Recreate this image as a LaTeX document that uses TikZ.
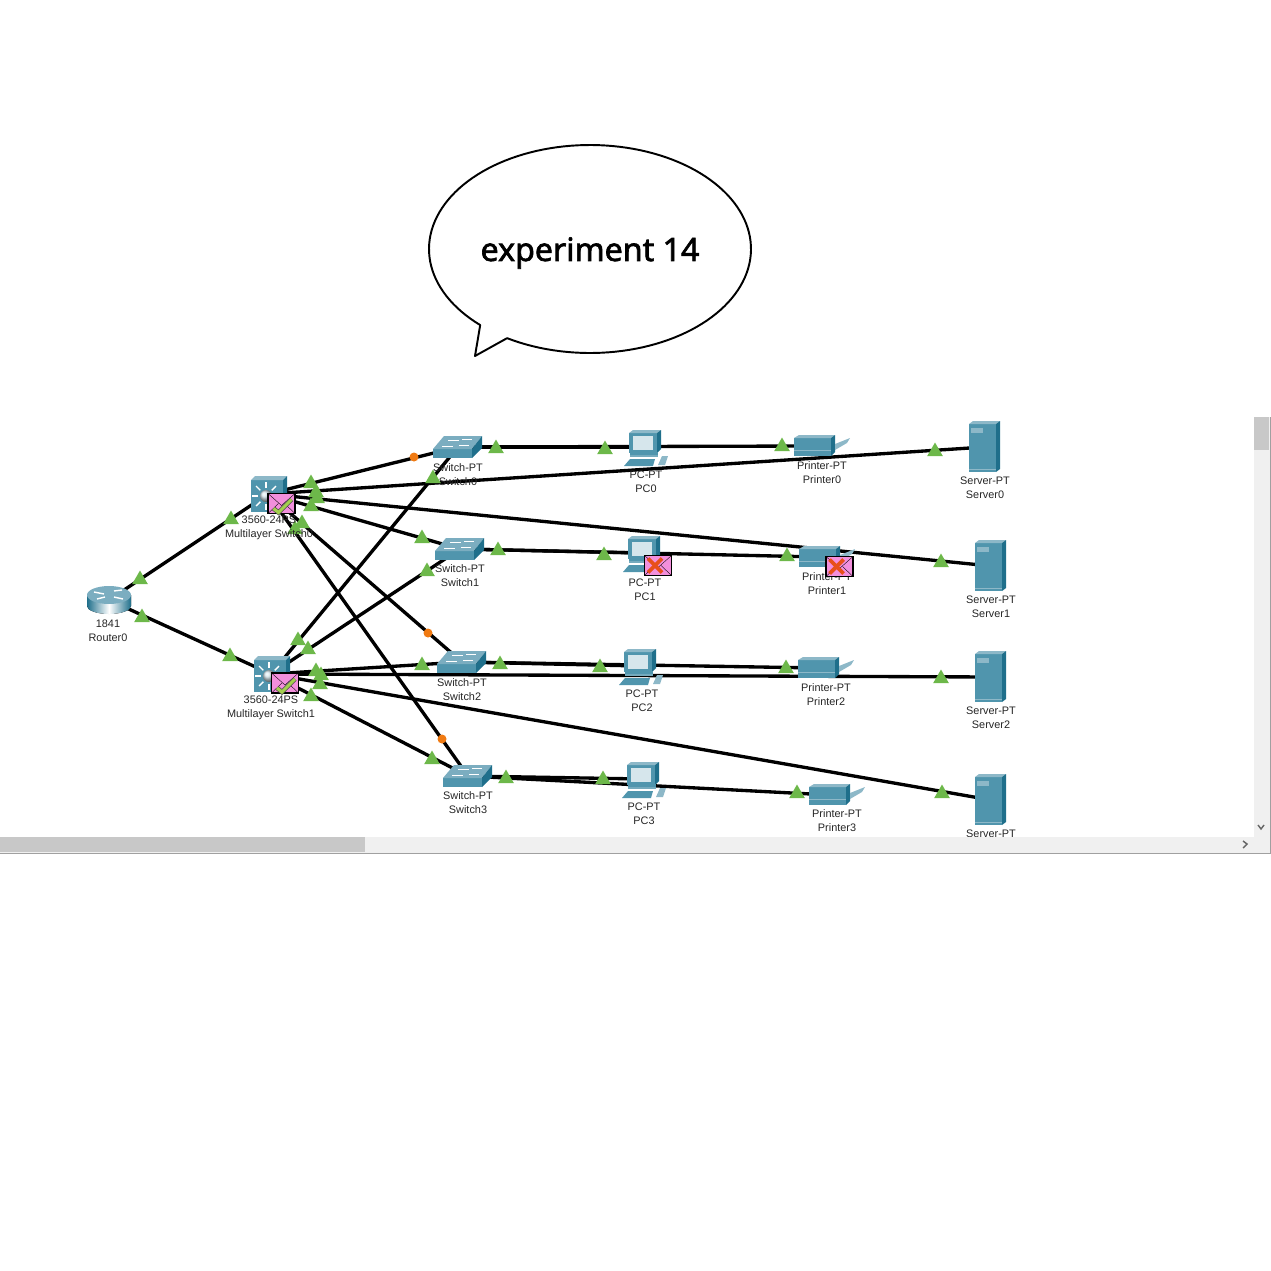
\documentclass[tikz,border=0pt]{standalone}
\usepackage{fontspec}
\setmainfont{Liberation Sans}
\newfontfamily\bubblefont[FakeBold=2]{Noto Sans}
\definecolor{devteal}{HTML}{5095AD}
\definecolor{devdark}{HTML}{1F6F8B}
\definecolor{devlight}{HTML}{8DB8C8}
\definecolor{screenblue}{HTML}{D6E6EC}
\definecolor{lightgreen}{HTML}{6DB84A}
\definecolor{lightorange}{HTML}{F07A12}
\definecolor{envpink}{HTML}{F28FDC}
\definecolor{crossred}{HTML}{E8501A}
\definecolor{checkgreen}{HTML}{A4CF4E}
\definecolor{barbg}{HTML}{F0F0F0}
\definecolor{barthumb}{HTML}{C8C8C8}
\definecolor{barline}{HTML}{A0A0A0}
\tikzset{
  devpt/.style={inner sep=0pt, minimum size=0pt},
  lbl/.style={inner sep=0pt, align=center, text=black!85, font=\fontsize{6.2}{7.94}\selectfont},
  link/.style={line width=1.9pt, black},
  uplight/.style={fill=lightgreen, regular polygon, regular polygon sides=3, inner sep=0pt, minimum size=18*0.02cm, yshift=-1.5*0.02cm},
  orangelight/.style={fill=lightorange, circle, inner sep=0pt, minimum size=9*0.02cm},
  pics/switchicon/.style={code={
    \fill[devteal] (-25,2) rectangle (14,11);
    \fill[devlight!70!devteal] (-25,2) -- (14,2) -- (24,-11) -- (-14,-11) -- cycle;
    \fill[devdark] (14,2) -- (24,-11) -- (24,1) -- (14,11) -- cycle;
    \draw[white, thin] (-10,-7) -- (1,-7);
    \draw[white, thin] (4,-8) -- (14,-8);
    \draw[white, thin] (-16,-1) -- (-5,-1);
    \draw[white, thin] (1,-2) -- (11,-2);
  }},
  pics/pcicon/.style={code={
    \fill[devteal] (-16,-14) rectangle (12,6);
    \fill[devlight] (-16,-14) -- (-12,-17) -- (16,-17) -- (12,-14) -- cycle;
    \fill[devdark] (12,-14) -- (16,-17) -- (16,2) -- (12,6) -- cycle;
    \fill[screenblue] (-12,-11) rectangle (8,3);
    \fill[devteal] (-15,5) rectangle (13,10);
    \fill[devlight!60!devteal] (-15,8) rectangle (13,10);
    \fill[devteal] (-21,19) -- (8,19) -- (10,12) -- (-15,12) -- cycle;
    \fill[devlight] (13,18) -- (17,9) -- (23,9) -- (20,18) -- cycle;
  }},
  pics/printericon/.style={code={
    \fill[devteal] (-21,-8) rectangle (16,10);
    \fill[devlight] (-21,-8) -- (-16,-11) -- (20,-11) -- (16,-8) -- cycle;
    \fill[devdark] (16,-8) -- (20,-11) -- (20,6) -- (16,10) -- cycle;
    \draw[devlight, thin] (-21,4) -- (16,4);
    \fill[devlight] (20,-2) -- (35,-8) -- (32,-3) -- (20,4) -- cycle;
  }},
  pics/servericon/.style={code={
    \fill[devteal] (-16,-23) rectangle (11,25);
    \fill[devlight] (-16,-23) -- (-12,-26) -- (15,-26) -- (11,-23) -- cycle;
    \fill[devdark] (11,-23) -- (15,-26) -- (15,22) -- (11,25) -- cycle;
    \fill[devlight] (-14,-19) rectangle (-2,-14);
    \draw[devlight, thin] (-16,22) -- (11,22);
  }},
  pics/mlsicon/.style={code={
    \fill[devteal] (-17,-14) rectangle (15,18);
    \fill[devlight] (-17,-14) -- (-13,-18) -- (19,-18) -- (15,-14) -- cycle;
    \fill[devdark] (15,-14) -- (19,-18) -- (19,14) -- (15,18) -- cycle;
    \foreach \a in {0,45,...,315}
      \draw[white, thick] (-2,2) ++(\a:8) -- ++(\a:6);
    \shade[ball color=screenblue] (-2,2) circle (6);
  }},
  pics/routericon/.style={code={
    \fill[left color=devdark, right color=devdark, middle color=white] (-22,-5) -- (-22,6) arc (180:360:22*0.02cm and 8*0.02cm) -- (22,-5) -- cycle;
    \fill[devlight!70!devteal] (0,-5) ellipse (22*0.02cm and 9*0.02cm);
    \draw[white, thick] (-15,-8) -- (-5,-6);
    \draw[white, thick] (5,-9) -- (13,-10);
    \draw[white, thick] (-12,-1) -- (-4,-3);
    \draw[white, thick] (5,-3) -- (14,-1);
  }},
  pics/okmail/.style={code={
    \draw[black, fill=envpink, line width=1pt] (-13.5,-10) rectangle (13.5,10);
    \draw[black, very thin] (-13.5,-10) -- (0,2) -- (13.5,-10);
    \draw[black, very thin] (-13.5,10) -- (-3,0);
    \draw[black, very thin] (13.5,10) -- (3,0);
    \draw[black!70, line width=2.6pt] (-8,5) -- (-3,9) -- (10,-4);
    \draw[checkgreen, line width=1.8pt] (-8,5) -- (-3,9) -- (10,-4);
  }},
  pics/badmail/.style={code={
    \draw[black, fill=envpink, line width=1pt] (-13.5,-10) rectangle (13.5,10);
    \draw[black, very thin] (-13.5,-10) -- (0,2) -- (13.5,-10);
    \draw[black, very thin] (-13.5,10) -- (-3,0);
    \draw[black, very thin] (13.5,10) -- (3,0);
    \draw[crossred, line width=2.2pt] (-10,-7) -- (4,7);
    \draw[crossred, line width=2.2pt] (4,-7) -- (-10,7);
  }}
}
\usetikzlibrary{shapes.geometric}
\begin{document}
\begin{tikzpicture}[x=0.02cm, y=-0.02cm]
  \useasboundingbox (0,0) rectangle (1271,1271);

  \coordinate (tail) at (475,356);
  \draw[black, line width=1.1pt, line join=round] plot[domain=133:481, samples=140] ({590+161*cos(\x)},{249+104*sin(\x)}) -- (tail) -- cycle;
  \node[inner sep=0pt, font=\bubblefont\fontsize{18.3}{20}\selectfont] (bubbletext) at (590,253) {experiment 14};

  \node[devpt] (Router0) at (109,600) {};
  \node[devpt] (MSwitch0) at (268,494) {};
  \node[devpt] (MSwitch1) at (271,674) {};
  \node[devpt] (Switch0) at (458,447) {};
  \node[devpt] (Switch1) at (460,549) {};
  \node[devpt] (Switch2) at (462,662) {};
  \node[devpt] (Switch3) at (468,776) {};
  \node[devpt] (PC0) at (645,447) {};
  \node[devpt] (PC1) at (644,553) {};
  \node[devpt] (PC2) at (640,666) {};
  \node[devpt] (PC3) at (643,779) {};
  \node[devpt] (Printer0) at (815,446) {};
  \node[devpt] (Printer1) at (820,557) {};
  \node[devpt] (Printer2) at (819,668) {};
  \node[devpt] (Printer3) at (830,795) {};
  \node[devpt] (Server0) at (985,447) {};
  \node[devpt] (Server1) at (991,566) {};
  \node[devpt] (Server2) at (991,677) {};
  \node[devpt] (Server3) at (991,800) {};

  \draw[link] (Router0) -- (MSwitch0);
  \draw[link] (Router0) -- (MSwitch1);
  \draw[link] (MSwitch0) -- (Switch0);
  \draw[link] (MSwitch0) -- (Switch1);
  \draw[link] (MSwitch0) -- (Switch2);
  \draw[link] (MSwitch0) -- (Switch3);
  \draw[link] (MSwitch0) -- (Server0);
  \draw[link] (MSwitch0) -- (Server1);
  \draw[link] (MSwitch1) -- (Switch0);
  \draw[link] (MSwitch1) -- (Switch1);
  \draw[link] (MSwitch1) -- (Switch2);
  \draw[link] (MSwitch1) -- (Switch3);
  \draw[link] (MSwitch1) -- (Server2);
  \draw[link] (MSwitch1) -- (Server3);
  \draw[link] (Switch0) -- (PC0);
  \draw[link] (Switch0) -- (Printer0);
  \draw[link] (Switch1) -- (PC1);
  \draw[link] (Switch1) -- (Printer1);
  \draw[link] (Switch2) -- (PC2);
  \draw[link] (Switch2) -- (Printer2);
  \draw[link] (Switch3) -- (PC3);
  \draw[link] (Switch3) -- (Printer3);

  \pic at (Router0) {routericon};
  \pic at (MSwitch0) {mlsicon};
  \pic at (MSwitch1) {mlsicon};
  \pic at (Switch0) {switchicon};
  \pic at (Switch1) {switchicon};
  \pic at (Switch2) {switchicon};
  \pic at (Switch3) {switchicon};
  \pic at (PC0) {pcicon};
  \pic at (PC1) {pcicon};
  \pic at (PC2) {pcicon};
  \pic at (PC3) {pcicon};
  \pic at (Printer0) {printericon};
  \pic at (Printer1) {printericon};
  \pic at (Printer2) {printericon};
  \pic at (Printer3) {printericon};
  \pic at (Server0) {servericon};
  \pic at (Server1) {servericon};
  \pic at (Server2) {servericon};
  \pic at (Server3) {servericon};

  \node[uplight] (up1) at (140,578) {};
  \node[uplight] (up2) at (142,616) {};
  \node[uplight] (up3) at (231,518) {};
  \node[uplight] (up4) at (230,655) {};
  \node[uplight] (up5) at (311,482) {};
  \node[uplight] (up6) at (316,491) {};
  \node[uplight] (up7) at (317,497) {};
  \node[uplight] (up8) at (311,505) {};
  \node[uplight] (up9) at (302,522) {};
  \node[uplight] (up10) at (295,528) {};
  \node[uplight] (up11) at (298,639) {};
  \node[uplight] (up12) at (308,648) {};
  \node[uplight] (up13) at (316,670) {};
  \node[uplight] (up14) at (321,674) {};
  \node[uplight] (up15) at (320,683) {};
  \node[uplight] (up16) at (311,695) {};
  \node[uplight] (up17) at (422,537) {};
  \node[uplight] (up18) at (427,570) {};
  \node[uplight] (up19) at (422,664) {};
  \node[uplight] (up20) at (433,477) {};
  \node[uplight] (up21) at (432,758) {};
  \node[uplight] (up22) at (496,447) {};
  \node[uplight] (up23) at (605,448) {};
  \node[uplight] (up24) at (782,445) {};
  \node[uplight] (up25) at (935,450) {};
  \node[uplight] (up26) at (498,549) {};
  \node[uplight] (up27) at (604,554) {};
  \node[uplight] (up28) at (787,555) {};
  \node[uplight] (up29) at (941,561) {};
  \node[uplight] (up30) at (500,663) {};
  \node[uplight] (up31) at (600,666) {};
  \node[uplight] (up32) at (786,667) {};
  \node[uplight] (up33) at (941,677) {};
  \node[uplight] (up34) at (506,777) {};
  \node[uplight] (up35) at (603,778) {};
  \node[uplight] (up36) at (797,792) {};
  \node[uplight] (up37) at (942,792) {};
  \node[orangelight] (dot1) at (414,457) {};
  \node[orangelight] (dot2) at (428,633) {};
  \node[orangelight] (dot3) at (442,739) {};

  \node[lbl] (lbRouter0) at (108,631) {1841\\Router0};
  \node[lbl] (lbMSwitch0) at (269,528) {3560-24PS\\Multilayer Switch0};
  \node[lbl] (lbMSwitch1) at (271,708) {3560-24PS\\Multilayer Switch1};
  \node[lbl] (lbSwitch0) at (458,475) {Switch-PT\\Switch0};
  \node[lbl] (lbSwitch1) at (460,576) {Switch-PT\\Switch1};
  \node[lbl] (lbSwitch2) at (462,690) {Switch-PT\\Switch2};
  \node[lbl] (lbSwitch3) at (468,803) {Switch-PT\\Switch3};
  \node[lbl] (lbPC0) at (646,482) {PC-PT\\PC0};
  \node[lbl] (lbPC1) at (645,590) {PC-PT\\PC1};
  \node[lbl] (lbPC2) at (642,701) {PC-PT\\PC2};
  \node[lbl] (lbPC3) at (644,814) {PC-PT\\PC3};
  \node[lbl] (lbPrinter0) at (822,473) {Printer-PT\\Printer0};
  \node[lbl] (lbPrinter1) at (827,584) {Printer-PT\\Printer1};
  \node[lbl] (lbPrinter2) at (826,695) {Printer-PT\\Printer2};
  \node[lbl] (lbPrinter3) at (837,821) {Printer-PT\\Printer3};
  \node[lbl] (lbServer0) at (985,488) {Server-PT\\Server0};
  \node[lbl] (lbServer1) at (991,607) {Server-PT\\Server1};
  \node[lbl] (lbServer2) at (991,718) {Server-PT\\Server2};
  \node[lbl] (lbServer3) at (991,834) {Server-PT};

  \pic at (281.5,503.5) {okmail};
  \pic at (285,683) {okmail};
  \pic at (658,565.5) {badmail};
  \pic at (839.5,566.5) {badmail};

  \fill[barbg] (1254,417) rectangle (1270,853);
  \fill[barbg] (0,837) rectangle (1270,853);
  \fill[barthumb] (1254,417) rectangle (1269,450);
  \fill[barthumb] (0,837) rectangle (365,852);
  \draw[barline, line width=0.8pt] (1270.5,417) -- (1270.5,853.5) -- (0,853.5);
  \draw[black!60, line width=0.8pt] (1258,825) -- (1261,829) -- (1264,825);
  \draw[black!60, line width=0.8pt] (1243,841) -- (1247,844) -- (1243,848);
\end{tikzpicture}
\end{document}
